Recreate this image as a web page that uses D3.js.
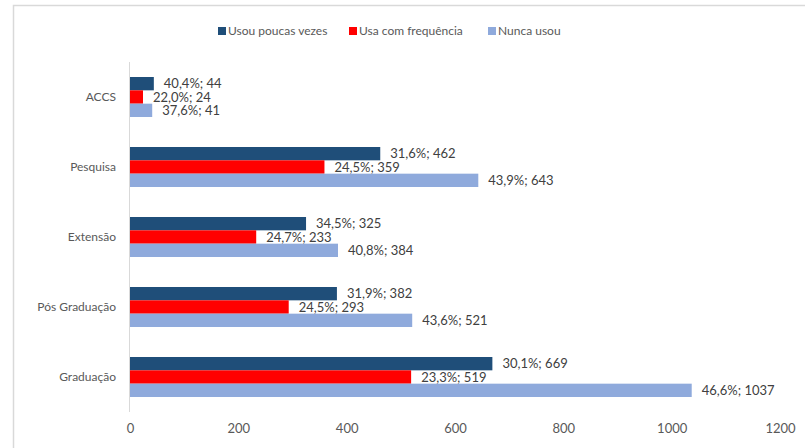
<!DOCTYPE html>
<html>
<head>
<meta charset="utf-8">
<script src="https://cdn.jsdelivr.net/npm/d3@7"></script>
<style>
  html, body { margin: 0; padding: 0; background: #fff; }
  svg { display: block; }
  text { font-family: Lato, "Liberation Sans", sans-serif; }
</style>
</head>
<body>
<svg id="chart" width="805" height="448"></svg>
<script>
// Categories, top to bottom
const categories = ["ACCS", "Pesquisa", "Extensão", "Pós Graduação", "Graduação"];
// Series names
const seriesNames = ["Usou poucas vezes", "Usa com frequência", "Nunca usou"];
// Counts per category, per series
const usouPoucasVezes = [44, 462, 325, 382, 669];
const usaComFrequencia = [24, 359, 233, 293, 519];
const nuncaUsou = [41, 643, 384, 521, 1037];
// Percent labels per category, per series
const pctPoucas = ["40,4%", "31,6%", "34,5%", "31,9%", "30,1%"];
const pctFrequencia = ["22,0%", "24,5%", "24,7%", "24,5%", "23,3%"];
const pctNunca = ["37,6%", "43,9%", "40,8%", "43,6%", "46,6%"];
// Axis ticks
const xTicks = [0, 200, 400, 600, 800, 1000, 1200];
const colors = ["#1F4E79", "#FF0000", "#8FAADC"];

const seriesValues = [usouPoucasVezes, usaComFrequencia, nuncaUsou];
const seriesPct = [pctPoucas, pctFrequencia, pctNunca];

const svg = d3.select("#chart");

// outer frame
svg.append("rect")
  .attr("x", 13.5).attr("y", 5.5)
  .attr("width", 900).attr("height", 600)
  .attr("fill", "none").attr("stroke", "#d9d9d9").attr("stroke-width", 1.5);

const x = d3.scaleLinear().domain([0, 1200]).range([130, 780]);
const y = d3.scaleBand().domain(categories).range([62, 412]).paddingInner(0.4286).paddingOuter(0.2143);
const ySub = d3.scaleBand().domain(d3.range(3)).range([0, y.bandwidth()]);

// category axis line
svg.append("line")
  .attr("x1", x(0) - 0.5).attr("x2", x(0) - 0.5)
  .attr("y1", 62).attr("y2", 412)
  .attr("stroke", "#d9d9d9").attr("stroke-width", 1);

// x tick labels
const xAxis = d3.axisBottom(x).tickValues(xTicks).tickSize(0).tickPadding(0).tickFormat(d3.format("d"));
const gx = svg.append("g").attr("transform", "translate(0,424)").call(xAxis);
gx.select(".domain").remove();
gx.selectAll("text").attr("fill", "#595959").attr("font-size", 13)
  .attr("font-family", "Lato, 'Liberation Sans', sans-serif");

// category labels
const yAxis = d3.axisLeft(y).tickSize(0).tickPadding(14);
const gy = svg.append("g").attr("transform", `translate(${x(0)},0)`).call(yAxis);
gy.select(".domain").remove();
gy.selectAll("text").attr("fill", "#595959").attr("font-size", 12)
  .attr("font-family", "Lato, 'Liberation Sans', sans-serif");

// bars and value labels
const rows = [];
categories.forEach((c, i) => {
  seriesValues.forEach((vals, s) => {
    rows.push({ cat: c, s, v: vals[i], pct: seriesPct[s][i] });
  });
});

const plot = svg.append("g");
plot.selectAll("rect.bar").data(rows).join("rect")
  .attr("class", "bar")
  .attr("x", x(0))
  .attr("y", d => y(d.cat) + ySub(d.s))
  .attr("width", d => x(d.v) - x(0))
  .attr("height", ySub.bandwidth())
  .attr("fill", d => colors[d.s]);

plot.selectAll("text.lbl").data(rows).join("text")
  .attr("class", "lbl")
  .attr("x", d => x(d.v) + 10)
  .attr("y", d => y(d.cat) + ySub(d.s) + ySub.bandwidth() / 2)
  .attr("dy", "0.35em")
  .attr("font-size", 13)
  .attr("fill", "#404040")
  .text(d => `${d.pct}; ${d.v}`);

// legend
const legendX = [218, 349, 488];
const lg = svg.append("g");
seriesNames.forEach((name, s) => {
  lg.append("rect").attr("x", legendX[s]).attr("y", 27).attr("width", 8).attr("height", 8).attr("fill", colors[s]);
  lg.append("text").attr("x", legendX[s] + 10).attr("y", 31).attr("dy", "0.35em")
    .attr("font-size", 12).attr("fill", "#595959").text(name);
});
</script>
</body>
</html>
